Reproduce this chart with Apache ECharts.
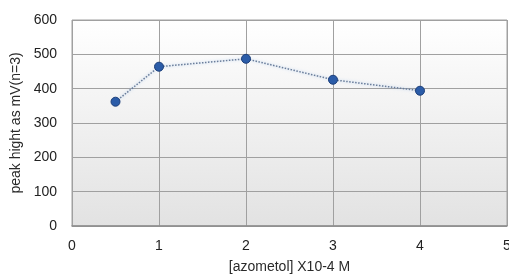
<!DOCTYPE html>
<html><head><meta charset="utf-8">
<script src="https://cdn.jsdelivr.net/npm/echarts@6/dist/echarts.min.js"></script>
<style>html,body{margin:0;padding:0;background:#fff}#c{width:509px;height:278px}</style>
</head><body><div id="c"></div>
<script>
const xValues = [0.5, 1, 2, 3, 4];
const peakHeights = [362, 464, 487, 426, 394];
const xTicks = [0, 1, 2, 3, 4, 5];
const yTicks = [0, 100, 200, 300, 400, 500, 600];

const chart = echarts.init(document.getElementById('c'));
const font = 'Liberation Sans, Arial, sans-serif';
chart.setOption({
  animation: false,
  grid: {
    left: 72, right: 2, top: 20, bottom: 52,
    outerBoundsMode: 'none',
    containLabel: false,
    show: true,
    borderColor: '#a0a0a0', borderWidth: 1,
    backgroundColor: new echarts.graphic.LinearGradient(0, 0, 0, 1, [
      {offset: 0, color: '#ffffff'}, {offset: 1, color: '#e2e2e2'}
    ])
  },
  xAxis: {
    type: 'value', min: 0, max: 5, interval: 1,
    name: '[azometol] X10-4 M', nameLocation: 'middle', nameGap: 34,
    nameTextStyle: {color: '#2a2a2a', fontSize: 14, fontFamily: font},
    axisLine: {lineStyle: {color: '#8c8c8c', width: 1.5}},
    axisTick: {show: false},
    axisLabel: {color: '#222', fontSize: 14, fontFamily: font, margin: 13,
      formatter: v => xTicks.includes(v) ? String(v) : ''},
    splitLine: {lineStyle: {color: '#a0a0a0', width: 1}}
  },
  yAxis: {
    type: 'value', min: 0, max: 600, interval: 100,
    name: 'peak hight as mV(n=3)', nameLocation: 'middle', nameGap: 46,
    nameTextStyle: {color: '#2a2a2a', fontSize: 14, fontFamily: font},
    axisLine: {show: false},
    axisTick: {show: false},
    axisLabel: {color: '#222', fontSize: 14, fontFamily: font, margin: 15,
      formatter: v => yTicks.includes(v) ? String(v) : ''},
    splitLine: {lineStyle: {color: '#a0a0a0', width: 1}}
  },
  series: [{
    type: 'line',
    data: xValues.map((x, i) => [x, peakHeights[i]]),
    symbol: 'circle', symbolSize: 9,
    itemStyle: {color: '#2b5ca8', borderColor: '#1d3f7a', borderWidth: 1},
    lineStyle: {color: '#6a7d9a', width: 1.5, type: 'dotted',
      shadowColor: 'rgba(120,170,230,0.6)', shadowBlur: 3}
  }]
});
</script></body></html>
